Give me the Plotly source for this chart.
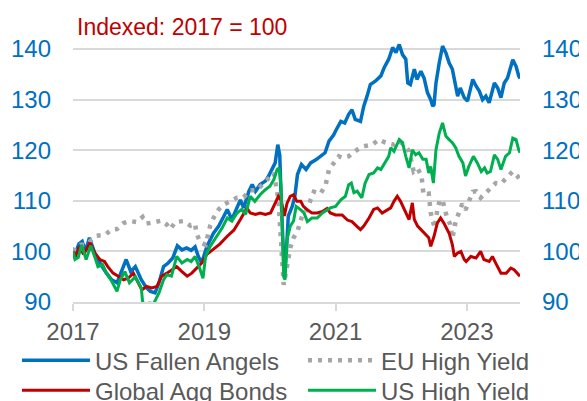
import plotly.graph_objects as go

# ---- data (decimal years, index level; 2017 = 100) ----
fa_t = [2017.00, 2017.03, 2017.09, 2017.14, 2017.19, 2017.25, 2017.33, 2017.41, 2017.51, 2017.59,
        2017.67, 2017.74, 2017.81, 2017.88, 2017.95, 2018.04, 2018.12, 2018.18, 2018.25, 2018.31,
        2018.38, 2018.45, 2018.52, 2018.59, 2018.66, 2018.73, 2018.80, 2018.86, 2018.91, 2018.96,
        2019.04, 2019.14, 2019.22, 2019.30, 2019.35, 2019.42, 2019.50, 2019.55, 2019.60, 2019.68,
        2019.73, 2019.78, 2019.85, 2019.93, 2019.98, 2020.03, 2020.08, 2020.12, 2020.15, 2020.17,
        2020.22, 2020.25, 2020.28, 2020.34, 2020.38, 2020.42, 2020.48, 2020.55, 2020.62, 2020.70,
        2020.77, 2020.84, 2020.90, 2020.97, 2021.00, 2021.08, 2021.14, 2021.20, 2021.25, 2021.30,
        2021.38, 2021.43, 2021.48, 2021.53, 2021.61, 2021.69, 2021.74, 2021.81, 2021.87, 2021.92,
        2021.97, 2022.02, 2022.07, 2022.10, 2022.14, 2022.20, 2022.24, 2022.30, 2022.35, 2022.40,
        2022.45, 2022.48, 2022.50, 2022.53, 2022.58, 2022.63, 2022.68, 2022.73, 2022.78, 2022.81,
        2022.86, 2022.90, 2022.96, 2023.01, 2023.09, 2023.14, 2023.19, 2023.24, 2023.29, 2023.34,
        2023.42, 2023.47, 2023.52, 2023.57, 2023.62, 2023.70, 2023.75, 2023.79, 2023.81]
fa_v = [100.0, 99.4, 101.5, 102.0, 100.0, 102.7, 99.7, 97.7, 95.7, 94.4,
        93.8, 96.0, 98.4, 96.0, 97.0, 94.4, 92.8, 92.1, 91.8, 93.8,
        97.0, 97.7, 98.7, 101.1, 100.3, 100.7, 100.2, 100.9, 99.0, 97.7,
        101.0, 103.6, 105.0, 107.0, 108.3, 106.3, 108.9, 110.2, 108.6, 111.9,
        113.2, 111.9, 113.2, 113.9, 114.9, 116.2, 117.5, 121.1, 119.0, 111.0,
        95.0, 99.7, 107.0, 108.9, 110.9, 115.2, 117.2, 116.2, 117.5, 118.1,
        118.8, 119.5, 121.8, 123.0, 123.8, 125.7, 125.4, 127.1, 128.0, 126.1,
        125.7, 128.7, 130.7, 133.0, 133.7, 134.7, 136.3, 138.0, 140.3, 139.3,
        140.9, 138.9, 138.0, 133.3, 133.0, 136.0, 134.0, 135.6, 134.2, 131.4,
        130.0, 128.7, 129.0, 133.3, 137.3, 140.6, 139.3, 137.3, 136.0, 134.0,
        130.7, 132.3, 130.4, 129.7, 134.0, 132.7, 131.7, 130.0, 130.7, 129.4,
        133.3, 132.3, 130.4, 133.3, 134.3, 137.9, 136.6, 134.7, 134.2]

eu_t = [2017.00, 2017.03, 2017.11, 2017.20, 2017.26, 2017.36, 2017.49, 2017.59, 2017.67, 2017.77,
        2017.87, 2017.97, 2018.06, 2018.12, 2018.25, 2018.35, 2018.43, 2018.48, 2018.56, 2018.68,
        2018.79, 2018.86, 2018.88, 2018.94, 2019.02, 2019.09, 2019.14, 2019.22, 2019.29, 2019.40,
        2019.50, 2019.60, 2019.70, 2019.80, 2019.93, 2020.01, 2020.06, 2020.13, 2020.21, 2020.26,
        2020.31, 2020.36, 2020.42, 2020.49, 2020.57, 2020.62, 2020.67, 2020.77, 2020.85, 2020.90,
        2020.97, 2021.05, 2021.10, 2021.20, 2021.33, 2021.43, 2021.56, 2021.66, 2021.76, 2021.89,
        2021.96, 2022.04, 2022.12, 2022.19, 2022.25, 2022.31, 2022.34, 2022.42, 2022.45, 2022.48,
        2022.51, 2022.55, 2022.59, 2022.63, 2022.66, 2022.70, 2022.75, 2022.78, 2022.83, 2022.88,
        2022.93, 2022.98, 2023.04, 2023.09, 2023.14, 2023.21, 2023.29, 2023.37, 2023.44, 2023.52,
        2023.60, 2023.70, 2023.77, 2023.81]
eu_v = [100.0, 100.7, 101.3, 101.3, 102.0, 103.1, 103.3, 104.3, 104.4, 105.6,
        106.0, 105.8, 106.8, 105.5, 105.8, 106.1, 105.3, 104.4, 105.8, 106.0,
        105.1, 105.5, 103.6, 101.8, 101.3, 105.1, 106.6, 108.3, 109.2, 109.9,
        110.6, 110.7, 112.1, 112.1, 113.9, 114.9, 115.5, 110.2, 93.4, 97.0,
        100.7, 102.7, 104.0, 107.0, 108.3, 110.2, 111.8, 111.4, 113.2, 116.2,
        117.5, 118.8, 118.5, 118.8, 120.1, 120.8, 121.1, 122.1, 121.5, 121.1,
        121.8, 121.1, 119.8, 115.8, 116.4, 114.9, 111.2, 111.4, 107.6, 105.9,
        104.6, 108.2, 110.2, 110.1, 108.4, 106.6, 105.3, 102.6, 105.9, 107.7,
        109.4, 108.2, 110.1, 111.8, 111.9, 110.6, 111.6, 112.5, 113.5, 113.4,
        114.5, 115.8, 114.9, 114.2]

ga_t = [2017.00, 2017.04, 2017.10, 2017.16, 2017.26, 2017.33, 2017.41, 2017.48, 2017.53, 2017.61,
        2017.69, 2017.77, 2017.84, 2017.92, 2017.97, 2018.05, 2018.12, 2018.20, 2018.28, 2018.35,
        2018.43, 2018.51, 2018.58, 2018.66, 2018.74, 2018.81, 2018.89, 2018.96, 2019.04, 2019.14,
        2019.24, 2019.35, 2019.45, 2019.55, 2019.60, 2019.65, 2019.70, 2019.78, 2019.85, 2019.93,
        2020.01, 2020.08, 2020.13, 2020.17, 2020.22, 2020.26, 2020.31, 2020.36, 2020.41, 2020.47,
        2020.51, 2020.57, 2020.64, 2020.72, 2020.80, 2020.87, 2020.92, 2021.00, 2021.10, 2021.18,
        2021.25, 2021.33, 2021.38, 2021.43, 2021.51, 2021.58, 2021.64, 2021.71, 2021.79, 2021.84,
        2021.89, 2021.94, 2021.99, 2022.07, 2022.12, 2022.17, 2022.20, 2022.25, 2022.30, 2022.35,
        2022.42, 2022.45, 2022.50, 2022.55, 2022.60, 2022.65, 2022.73, 2022.78, 2022.81, 2022.86,
        2022.91, 2022.96, 2022.99, 2023.06, 2023.14, 2023.21, 2023.26, 2023.34, 2023.39, 2023.44,
        2023.52, 2023.60, 2023.67, 2023.72, 2023.77, 2023.81]
ga_v = [100.0, 99.0, 101.0, 99.4, 101.7, 99.7, 98.4, 98.0, 97.0, 95.7,
        95.1, 94.4, 94.7, 95.7, 94.4, 92.4, 93.1, 92.8, 93.1, 95.1,
        95.7, 96.4, 97.0, 96.0, 95.1, 95.7, 96.7, 97.7, 99.4, 100.5,
        101.5, 103.0, 104.2, 106.3, 107.6, 108.6, 107.6, 107.3, 107.6, 107.3,
        107.6, 109.6, 110.9, 110.2, 107.0, 109.5, 110.9, 111.2, 109.9, 109.9,
        108.9, 108.2, 107.6, 107.6, 107.9, 108.5, 107.6, 107.2, 107.2, 106.2,
        105.9, 104.9, 104.3, 105.0, 106.6, 108.3, 108.6, 107.6, 108.3, 108.6,
        109.9, 110.9, 109.9, 107.5, 106.3, 109.6, 106.3, 105.0, 104.3, 103.6,
        102.7, 101.0, 103.0, 105.6, 106.6, 105.6, 103.6, 101.3, 99.0, 99.7,
        100.0, 98.4, 98.0, 99.0, 98.7, 100.0, 98.4, 98.0, 99.0, 97.7,
        95.7, 95.7, 96.7, 96.4, 95.7, 95.1]

hy_t = [2017.00, 2017.03, 2017.08, 2017.13, 2017.20, 2017.27, 2017.33, 2017.38, 2017.45, 2017.51,
        2017.59, 2017.67, 2017.72, 2017.79, 2017.86, 2017.95, 2018.04, 2018.06, 2018.10, 2018.16,
        2018.23, 2018.31, 2018.38, 2018.43, 2018.50, 2018.58, 2018.66, 2018.74, 2018.80, 2018.86,
        2018.92, 2018.98, 2019.02, 2019.09, 2019.19, 2019.27, 2019.35, 2019.42, 2019.50, 2019.57,
        2019.63, 2019.70, 2019.77, 2019.85, 2019.93, 2020.00, 2020.06, 2020.11, 2020.14, 2020.17,
        2020.21, 2020.23, 2020.26, 2020.31, 2020.36, 2020.40, 2020.47, 2020.52, 2020.57, 2020.64,
        2020.72, 2020.80, 2020.87, 2020.92, 2021.00, 2021.08, 2021.15, 2021.20, 2021.24, 2021.28,
        2021.33, 2021.40, 2021.45, 2021.51, 2021.58, 2021.64, 2021.69, 2021.74, 2021.81, 2021.84,
        2021.89, 2021.97, 2022.02, 2022.07, 2022.12, 2022.17, 2022.22, 2022.27, 2022.33, 2022.38,
        2022.42, 2022.45, 2022.49, 2022.53, 2022.58, 2022.63, 2022.68, 2022.73, 2022.78, 2022.83,
        2022.88, 2022.94, 2022.98, 2023.03, 2023.10, 2023.16, 2023.22, 2023.27, 2023.31, 2023.36,
        2023.42, 2023.47, 2023.52, 2023.59, 2023.65, 2023.70, 2023.75, 2023.79, 2023.81]
hy_v = [100.0, 98.4, 98.8, 101.3, 98.4, 101.1, 99.0, 97.0, 97.4, 95.7,
        94.1, 92.1, 94.4, 96.0, 93.8, 95.0, 92.8, 90.1, 89.2, 89.8,
        89.7, 91.8, 94.4, 95.4, 95.1, 99.0, 97.7, 98.4, 98.0, 99.0,
        97.0, 94.7, 99.0, 101.0, 103.0, 104.6, 106.6, 106.0, 107.6, 108.3,
        107.3, 110.9, 109.9, 111.2, 112.2, 112.9, 114.2, 116.2, 116.5, 112.9,
        95.0, 94.4, 102.3, 105.0, 106.0, 108.9, 108.2, 107.6, 105.9, 106.6,
        106.6, 107.6, 108.2, 108.6, 108.9, 110.2, 110.9, 113.2, 113.5, 111.6,
        111.9, 110.6, 113.5, 115.2, 115.5, 116.5, 116.2, 117.2, 118.8, 120.5,
        119.8, 122.1, 121.5, 118.8, 116.5, 120.1, 119.1, 119.5, 118.2, 118.2,
        115.5, 116.8, 113.5, 120.1, 123.4, 125.4, 122.8, 122.1, 121.5, 120.5,
        118.8, 117.5, 114.9, 116.8, 118.8, 117.5, 115.8, 116.5, 115.5, 115.8,
        119.1, 118.2, 116.2, 118.8, 119.5, 122.4, 122.1, 120.1, 119.5]

x_ticks = [2017, 2019, 2021, 2023]
y_ticks = [90, 100, 110, 120, 130, 140]

BLUE = "#0070C0"
RED = "#C00000"
GREEN = "#00B050"
GREY = "#A6A6A6"
TXT = "#595959"
GRID = "#D9D9D9"
FONT = "Liberation Sans, Arial, sans-serif"

fig = go.Figure()
fig.add_trace(go.Scatter(x=fa_t, y=fa_v, name="US Fallen Angels", mode="lines",
                         legend="legend", line=dict(color=BLUE, width=3.5)))
fig.add_trace(go.Scatter(x=eu_t, y=eu_v, name="EU High Yield", mode="lines",
                         legend="legend2", line=dict(color=GREY, width=4.5, dash="4px,6px")))
fig.add_trace(go.Scatter(x=ga_t, y=ga_v, name="Global Agg Bonds", mode="lines",
                         legend="legend3", line=dict(color=RED, width=3)))
# last-drawn series sits on the (identical) right-hand axis so that axis is rendered
fig.add_trace(go.Scatter(x=hy_t, y=hy_v, name="US High Yield", mode="lines", yaxis="y2",
                         legend="legend4", line=dict(color=GREEN, width=3)))

yr = [90, 141.2]


def leg(x, y):
    return dict(orientation="v", x=x, y=y, xanchor="left", yanchor="middle",
                itemwidth=68, font=dict(size=24, color=TXT, family=FONT),
                bgcolor="rgba(0,0,0,0)", borderwidth=0, itemclick=False,
                itemdoubleclick=False)


fig.update_layout(
    width=579, height=393,
    margin=dict(l=65, r=67, t=35, b=99, autoexpand=False),
    paper_bgcolor="white", plot_bgcolor="white",
    font=dict(family=FONT, size=22, color=TXT),
    xaxis=dict(range=[2017, 2023.81], tickmode="array", tickvals=x_ticks,
               ticktext=[str(v) for v in x_ticks],
               showgrid=False, zeroline=False, showline=True, linecolor=GRID, linewidth=1.5,
               ticks="outside", ticklen=7, tickcolor=GRID, tickwidth=1.5,
               tickfont=dict(size=24, color=TXT)),
    yaxis=dict(range=yr, tickmode="array", tickvals=y_ticks, showgrid=True,
               gridcolor=GRID, gridwidth=1.5, zeroline=False, showline=False,
               ticks="", ticklabelstandoff=21, tickfont=dict(size=24, color=BLUE)),
    yaxis2=dict(range=yr, tickmode="array", tickvals=y_ticks, overlaying="y", side="right",
                anchor="x", showgrid=False, zeroline=False, showline=False, ticks="",
                ticklabelstandoff=21, tickfont=dict(size=24, color=BLUE)),
    showlegend=True,
    legend=leg(-0.1253, -0.2266),
    legend2=leg(0.5145, -0.2266),
    legend3=leg(-0.1253, -0.3425),
    legend4=leg(0.5145, -0.3425),
    annotations=[dict(text="Indexed: 2017 = 100", xref="paper", yref="paper",
                      x=0.004, y=1.062, xanchor="left", yanchor="middle", showarrow=False,
                      font=dict(size=23, color=RED, family=FONT))],
)

fig.write_html("out.html")
